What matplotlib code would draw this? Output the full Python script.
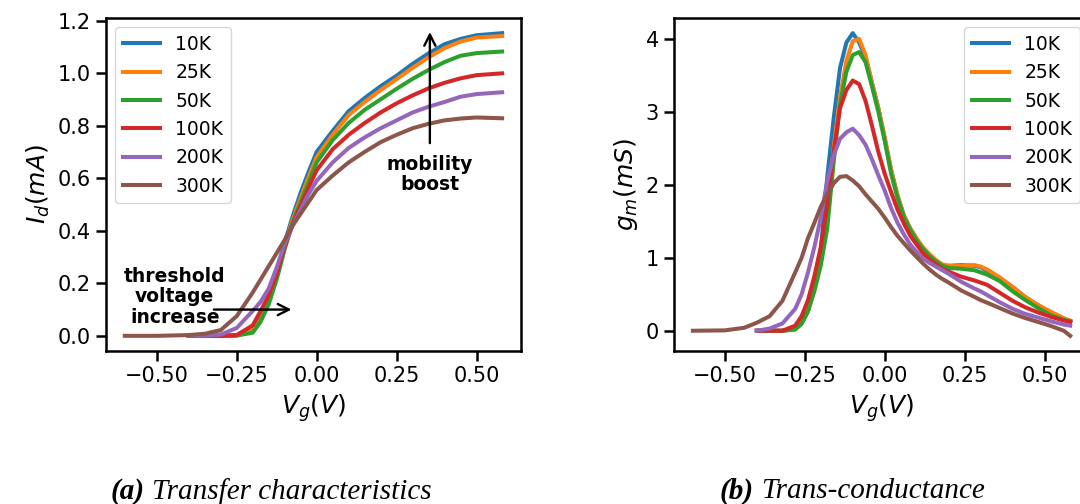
import numpy as np
import matplotlib
matplotlib.use('Agg')
import matplotlib.pyplot as plt

# ---- data ----
temps = ['10K', '25K', '50K', '100K', '200K', '300K']
nan = np.nan

# (a) transfer characteristics, Id in mA
vg_a = [-0.6, -0.5, -0.4, -0.35, -0.3, -0.25, -0.2, -0.175, -0.15, -0.125, -0.1,
        -0.075, -0.05, -0.025, 0.0, 0.05, 0.1, 0.15, 0.2, 0.25, 0.3, 0.35, 0.4,
        0.45, 0.5, 0.58]
id_10k = [nan, nan, 0.0, 0.0, 0.0, 0.002, 0.02, 0.065, 0.14, 0.24, 0.355,
          0.455, 0.545, 0.625, 0.70, 0.78, 0.855, 0.905, 0.95, 0.99, 1.035, 1.075, 1.11,
          1.13, 1.144, 1.152]
id_25k = [nan, nan, 0.0, 0.0, 0.0, 0.002, 0.018, 0.06, 0.13, 0.23, 0.345,
          0.44, 0.525, 0.605, 0.68, 0.765, 0.84, 0.89, 0.935, 0.977, 1.02, 1.06, 1.095,
          1.12, 1.135, 1.141]
id_50k = [nan, nan, 0.0, 0.0, 0.0, 0.001, 0.012, 0.055, 0.12, 0.215, 0.33,
          0.43, 0.51, 0.585, 0.66, 0.745, 0.81, 0.86, 0.90, 0.94, 0.978, 1.012, 1.042,
          1.066, 1.076, 1.082]
id_100k = [nan, nan, 0.0, 0.0, 0.0, 0.003, 0.04, 0.095, 0.155, 0.235, 0.34,
           0.425, 0.495, 0.565, 0.63, 0.71, 0.765, 0.81, 0.85, 0.885, 0.915, 0.942, 0.963,
           0.98, 0.992, 0.999]
id_200k = [nan, nan, 0.0, 0.001, 0.005, 0.03, 0.095, 0.13, 0.18, 0.26, 0.35,
           0.42, 0.48, 0.54, 0.59, 0.66, 0.715, 0.755, 0.79, 0.82, 0.85, 0.872, 0.89,
           0.91, 0.92, 0.927]
id_300k = [0.0, 0.0, 0.003, 0.008, 0.022, 0.075, 0.165, 0.215, 0.265, 0.315, 0.365,
           0.42, 0.465, 0.51, 0.555, 0.61, 0.66, 0.70, 0.737, 0.765, 0.79, 0.807, 0.82,
           0.827, 0.831, 0.828]

# (b) trans-conductance, gm in mS
vg_b = [-0.6, -0.5, -0.44, -0.4, -0.36, -0.32, -0.28, -0.26, -0.24, -0.22, -0.2,
        -0.18, -0.16, -0.14, -0.12, -0.1, -0.08, -0.06, -0.04, -0.02, 0.0, 0.02,
        0.04, 0.06, 0.08, 0.1, 0.12, 0.14, 0.16, 0.18, 0.2, 0.24, 0.28, 0.3, 0.32,
        0.36, 0.4, 0.44, 0.48, 0.52, 0.56, 0.58]
gm_10k = [nan, nan, nan, 0.0, 0.0, 0.0, 0.02, 0.1, 0.27, 0.6, 1.1,
          2.1, 2.9, 3.6, 3.95, 4.08, 3.95, 3.75, 3.4, 3.05, 2.63, 2.2,
          1.85, 1.58, 1.4, 1.26, 1.13, 1.04, 0.96, 0.9, 0.89, 0.9, 0.89, 0.87, 0.82,
          0.72, 0.6, 0.46, 0.35, 0.25, 0.17, 0.12]
gm_25k = [nan, nan, nan, 0.0, 0.0, 0.0, 0.02, 0.1, 0.27, 0.55, 0.92,
          1.5, 2.5, 3.2, 3.7, 3.97, 4.0, 3.78, 3.4, 3.05, 2.65, 2.2,
          1.85, 1.58, 1.4, 1.26, 1.14, 1.05, 0.97, 0.91, 0.89, 0.89, 0.9, 0.88, 0.84,
          0.73, 0.6, 0.46, 0.35, 0.26, 0.17, 0.14]
gm_50k = [nan, nan, nan, 0.0, 0.0, 0.0, 0.02, 0.1, 0.27, 0.55, 0.9,
          1.4, 2.3, 3.1, 3.55, 3.78, 3.82, 3.68, 3.35, 3.0, 2.6, 2.15,
          1.82, 1.55, 1.38, 1.23, 1.12, 1.02, 0.95, 0.89, 0.86, 0.85, 0.83, 0.8, 0.77,
          0.68, 0.54, 0.42, 0.31, 0.21, 0.15, 0.13]
gm_100k = [nan, nan, nan, 0.0, 0.0, 0.0, 0.07, 0.2, 0.42, 0.75, 1.15,
           1.72, 2.45, 3.05, 3.3, 3.43, 3.38, 3.15, 2.81, 2.45, 2.15, 1.9,
           1.66, 1.47, 1.3, 1.18, 1.06, 0.98, 0.91, 0.85, 0.81, 0.74, 0.69, 0.66, 0.63,
           0.52, 0.41, 0.32, 0.25, 0.19, 0.14, 0.12]
gm_200k = [nan, nan, nan, 0.0, 0.03, 0.1, 0.3, 0.5, 0.8, 1.15, 1.55,
           2.05, 2.4, 2.63, 2.72, 2.77, 2.68, 2.55, 2.35, 2.13, 1.92, 1.68,
           1.48, 1.32, 1.18, 1.08, 0.99, 0.93, 0.88, 0.83, 0.78, 0.67, 0.58, 0.54, 0.49,
           0.39, 0.3, 0.23, 0.18, 0.13, 0.085, 0.07]
gm_300k = [0.0, 0.005, 0.04, 0.11, 0.2, 0.41, 0.8, 1.0, 1.27, 1.48, 1.7,
           1.87, 2.02, 2.11, 2.12, 2.06, 1.98, 1.87, 1.77, 1.67, 1.55, 1.42,
           1.3, 1.2, 1.1, 1.01, 0.92, 0.84, 0.77, 0.71, 0.66, 0.55, 0.465, 0.42, 0.385,
           0.31, 0.235, 0.173, 0.12, 0.065, 0.0, -0.07]

id_curves = [id_10k, id_25k, id_50k, id_100k, id_200k, id_300k]
gm_curves = [gm_10k, gm_25k, gm_50k, gm_100k, gm_200k, gm_300k]

plt.rcParams['axes.linewidth'] = 1.8
plt.rcParams['xtick.major.width'] = 1.8
plt.rcParams['ytick.major.width'] = 1.8
plt.rcParams['xtick.major.size'] = 7.5
plt.rcParams['ytick.major.size'] = 7.5

fig = plt.figure(figsize=(10.8, 5.04), dpi=100)
ax1 = fig.add_axes([0.0981, 0.3036, 0.3843, 0.6607])
ax2 = fig.add_axes([0.6241, 0.3036, 0.3843, 0.6607])

for name, y in zip(temps, id_curves):
    ax1.plot(vg_a, y, lw=2.9, label=name)
for name, y in zip(temps, gm_curves):
    ax2.plot(vg_b, y, lw=2.9, label=name)

for ax in (ax1, ax2):
    ax.set_xticks([-0.5, -0.25, 0.0, 0.25, 0.5])
    ax.tick_params(labelsize=15)
    ax.set_xlabel('$V_g(V)$', fontsize=18)

ax1.set_ylabel('$I_d(mA)$', fontsize=18)
ax2.set_ylabel('$g_m(mS)$', fontsize=18)
ax2.set_yticks([0, 1, 2, 3, 4])

ax1.legend(loc='upper left', fontsize=13.5)
ax2.legend(loc='upper right', fontsize=13.5)

# annotations on the transfer plot
arrow = dict(arrowstyle='->', lw=1.7, color='black', mutation_scale=20)
ax1.annotate('', xy=(-0.07, 0.1), xytext=(-0.33, 0.1), arrowprops=arrow)
ax1.text(-0.444, 0.148, 'threshold\nvoltage\nincrease', ha='center', va='center',
         fontsize=13.5, fontweight='bold', linespacing=1.1)
ax1.annotate('', xy=(0.354, 1.167), xytext=(0.354, 0.723), arrowprops=arrow)
ax1.text(0.354, 0.614, 'mobility\nboost', ha='center', va='center',
         fontsize=13.5, fontweight='bold', linespacing=1.1)

# sub-figure captions
cap = dict(family='Liberation Serif', fontsize=21, va='center')
fig.text(145 / 1080, 0.025, '(a)', ha='right', style='italic', weight='bold', **cap)
fig.text(152 / 1080, 0.025, 'Transfer characteristics', ha='left', style='italic', **cap)
fig.text(754 / 1080, 0.025, '(b)', ha='right', style='italic', weight='bold', **cap)
fig.text(761 / 1080, 0.025, 'Trans-conductance', ha='left', style='italic', **cap)

fig.savefig('out.png', dpi=100)
